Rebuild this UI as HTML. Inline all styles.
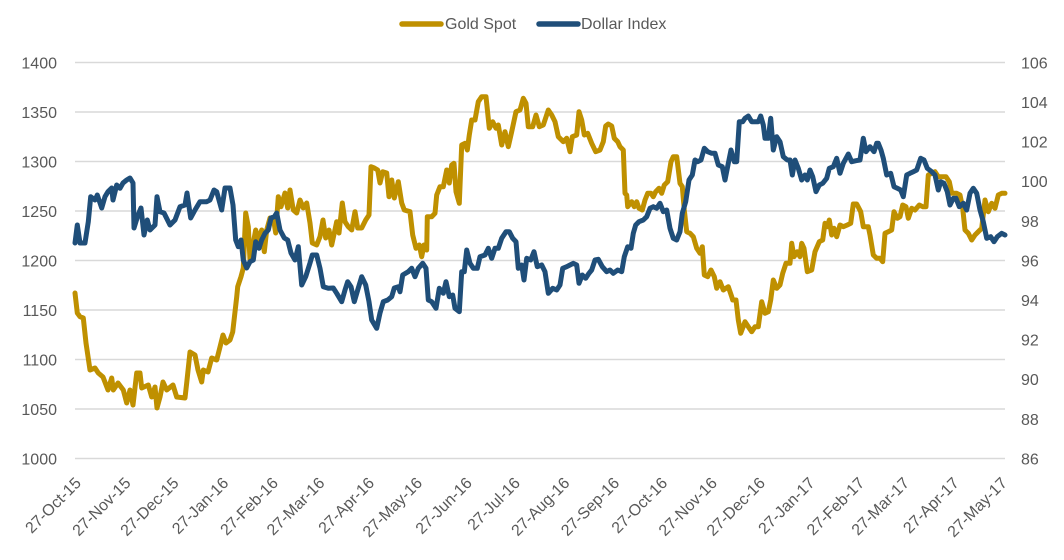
<!DOCTYPE html>
<html>
<head>
<meta charset="utf-8">
<style>
html,body{margin:0;padding:0;background:#fff;}
svg{display:block;}
text{font-family:"Liberation Sans",sans-serif;fill:#595959;font-size:16px;}
</style>
</head>
<body>
<svg width="1064" height="560" viewBox="0 0 1064 560" xmlns="http://www.w3.org/2000/svg">
<rect width="1064" height="560" fill="#fff"/>
<!-- gridlines -->
<g stroke="#d9d9d9" stroke-width="1.6">
<line x1="75" y1="62.5" x2="1005" y2="62.5"/>
<line x1="75" y1="112" x2="1005" y2="112"/>
<line x1="75" y1="161.5" x2="1005" y2="161.5"/>
<line x1="75" y1="211" x2="1005" y2="211"/>
<line x1="75" y1="260.5" x2="1005" y2="260.5"/>
<line x1="75" y1="310" x2="1005" y2="310"/>
<line x1="75" y1="359.5" x2="1005" y2="359.5"/>
<line x1="75" y1="409" x2="1005" y2="409"/>
<line x1="75" y1="458.5" x2="1005" y2="458.5"/>
</g>
<!-- left axis -->
<g text-anchor="end">
<text x="57" y="68.5">1400</text>
<text x="57" y="118">1350</text>
<text x="57" y="167.5">1300</text>
<text x="57" y="217">1250</text>
<text x="57" y="266.5">1200</text>
<text x="57" y="316">1150</text>
<text x="57" y="365.5">1100</text>
<text x="57" y="415">1050</text>
<text x="57" y="464.5">1000</text>
</g>
<!-- right axis -->
<g text-anchor="start">
<text x="1021" y="68.5">106</text>
<text x="1021" y="108">104</text>
<text x="1021" y="147.6">102</text>
<text x="1021" y="187.2">100</text>
<text x="1021" y="226.8">98</text>
<text x="1021" y="266.4">96</text>
<text x="1021" y="306">94</text>
<text x="1021" y="345.6">92</text>
<text x="1021" y="385.2">90</text>
<text x="1021" y="424.8">88</text>
<text x="1021" y="464.4">86</text>
</g>
<!-- x axis labels -->
<g text-anchor="end">
<text transform="translate(82,484) rotate(-45)">27-Oct-15</text>
<text transform="translate(131.7,484) rotate(-45)">27-Nov-15</text>
<text transform="translate(179.7,484) rotate(-45)">27-Dec-15</text>
<text transform="translate(229.4,484) rotate(-45)">27-Jan-16</text>
<text transform="translate(279,484) rotate(-45)">27-Feb-16</text>
<text transform="translate(325.5,484) rotate(-45)">27-Mar-16</text>
<text transform="translate(375.2,484) rotate(-45)">27-Apr-16</text>
<text transform="translate(423.2,484) rotate(-45)">27-May-16</text>
<text transform="translate(472.9,484) rotate(-45)">27-Jun-16</text>
<text transform="translate(521,484) rotate(-45)">27-Jul-16</text>
<text transform="translate(570.6,484) rotate(-45)">27-Aug-16</text>
<text transform="translate(620.3,484) rotate(-45)">27-Sep-16</text>
<text transform="translate(668.3,484) rotate(-45)">27-Oct-16</text>
<text transform="translate(718,484) rotate(-45)">27-Nov-16</text>
<text transform="translate(766,484) rotate(-45)">27-Dec-16</text>
<text transform="translate(815.7,484) rotate(-45)">27-Jan-17</text>
<text transform="translate(865.4,484) rotate(-45)">27-Feb-17</text>
<text transform="translate(910.2,484) rotate(-45)">27-Mar-17</text>
<text transform="translate(959.9,484) rotate(-45)">27-Apr-17</text>
<text transform="translate(1008,484) rotate(-45)">27-May-17</text>
</g>
<!-- legend -->
<line x1="402" y1="24" x2="441" y2="24" stroke="#bf9000" stroke-width="5.5" stroke-linecap="round"/>
<text x="445" y="29">Gold Spot</text>
<line x1="539" y1="24" x2="578" y2="24" stroke="#1f4e79" stroke-width="5.5" stroke-linecap="round"/>
<text x="581" y="29">Dollar Index</text>
<!-- Gold series -->
<polyline fill="none" stroke="#bf9000" stroke-width="5" stroke-linejoin="round" stroke-linecap="round" points="75,293 77.3,313 80,316.7 83.3,318 86,343 90,370 95,368 98.3,373 103,377 108,390 111.7,378 113.3,390 118,383 123.3,390 126.7,403 130,390 133,405 136.7,373 140,373 141.7,388 148.3,385 151.7,397 155,387 157,408 160,397 163,382 166.7,390 173,385 176.7,397 185,398 186.7,383 190,352 195,355 198,370 201.7,382 203.3,370 208,372 211.7,358 216.7,360 220,347 223,335 226,343 230,340 232.7,332 236.7,297 237.7,286.7 241,276.7 243.3,268 245.7,213 248.3,226.7 250,260 253.3,243 255.7,230 258.3,240 261.7,230 264.3,251.7 266.7,230 270,218 273.3,218 275.7,233 278.3,196.7 281,206.7 285,193 287.7,208 290,190 293.3,210 296.7,213 300,200 303.3,208 306.7,203 310,223 312.3,243 316.7,245 320,236.7 323,220 325.7,238 329,230 331.7,245 334.3,233 336.7,221.7 339,233 342.3,203 345,221.7 348.3,226.7 351.7,230 355,211.7 357.7,228 361.7,228 365.7,220 369,215 371,166.7 374.3,168 377.7,170 380,183 382.7,171.7 386.7,173 389,196.7 391.7,180 394.3,198 398.3,181.7 401.7,203 404.3,210 410,211.7 412.7,235 416,248.3 419.3,245 421.7,256.7 424,245 426.7,250 427.3,216.7 431.7,216.7 435,213.3 436.7,195 440,186.7 443.3,186.7 446.7,170 449.3,183 451.7,165 454,163.3 456,191.7 459.3,203.3 461.7,145 465,143.3 467.3,150 469.3,135 471.7,120 475,120 478.3,101.7 481.7,96.7 486,96.7 489.3,128.3 492.7,121.7 496,128.3 498.3,125 501.7,145 505,131.7 508.3,146.7 511.7,131.7 516,111.7 520,110 523.3,98.3 526,103.3 528.3,126.7 532.7,126.7 536,115 539.3,126.7 543.3,125 548.3,110 551.7,115 555,121.7 558.3,136.7 563.3,141.7 566.7,138.3 570,151.7 572.3,136.7 576.7,135 579,111.7 581.7,120 584.3,135 587.7,133.3 591.7,143.3 595.7,151.7 600,150 603.3,141.7 605.7,126 608.3,124 611.7,126 614.3,138.3 617.7,141.7 620,146.7 623.3,150 625,193.3 626.7,195 627.7,206.7 631.7,201.7 634.3,206.7 636.7,201.7 639,208.3 642.3,210 645,200 647.7,193.3 651,193.3 653.3,196.7 655.7,191.7 659,188.3 661.7,193.3 664.3,185 667.7,181.7 671,161.7 673.3,156.7 676.7,156.7 680,183.3 682.3,186.7 684.3,210 686.7,231.7 690,233.3 693.3,236.7 696.7,248.3 700,253.3 702.3,246.7 704.3,275 707.7,276.7 711,270 714.3,276.7 716.7,288.3 720,281.7 723.3,290 728.3,286.7 731.7,296.7 732.7,300 736,300 738.3,320 740.7,333.3 745,321.7 748.3,326.7 751.7,331.7 755,326.7 758.3,326.7 761.7,301.7 765,313.3 768.3,311.7 770.7,300 773.3,280 776.7,288.3 780,285 782.7,273.3 786,263.3 790,263.3 791.7,243.3 794,256.7 797.3,251.7 800,256.7 801.7,243.3 804,248.3 807.3,271.7 811.7,270 815,251.7 819.3,241.7 822.7,240 825,223.3 827.3,226.7 829.3,220 831.7,235 834,228.3 836.7,236.7 840,225 843.3,226.7 847.3,225 850.7,223.3 853.3,204 856.7,204 860.7,211.7 863.3,226.7 868.3,226.7 870,235 873.3,255 876.7,258.3 880,258.3 882.7,261.7 885,233.3 888.3,231.7 891.7,230 894,211.7 897.3,218.3 900,216.7 902.7,205 906,206.7 908.3,218.3 911.7,208.3 915,210 919.3,205 922.7,206.7 926,206.7 928.3,175 931.7,173.3 935,171.7 938.3,176.7 941.7,176.7 946,176.7 949.3,181.7 951.7,193.3 956.7,193.3 960,195 962.7,208.3 965,230 968.3,233.3 971.7,240 975,235 978.3,231.7 981.7,228.3 985,200 988.3,211.7 991.7,203.3 995,208.3 998.3,195 1001.7,193.3 1005,193.3"/>
<!-- Dollar series -->
<polyline fill="none" stroke="#1f4e79" stroke-width="5" stroke-linejoin="round" stroke-linecap="round" points="75,243 77.3,225 80,243 85,243 88.3,221.7 90.7,196.7 95,200 97.3,195 101.7,208 105,196.7 108,191.7 111.7,188 113,200 116.7,185 120,188.3 123,183 126.7,180 130,178 133,183 134,228 138,215 141,208 144,235 147.3,220 150,230 155,225 157,196.7 160,211.7 164,213 170,225 175,220 180,206.7 185,205 187,193 190.7,218 195,210 200,201.7 206.7,201.7 210,200 214,190 216.7,191.7 221.7,210 225,188 230,188 233,205 235.7,240 238.3,246.7 241,240 243.3,260 246.7,268 250,261.7 253.3,260 255.7,241.7 259,248.3 261.7,240 265,233.3 268.3,230 271,218 274.3,216.7 276.7,213 280,230 284.3,238 287.7,240 291,253 295,260 298.3,246.7 301.7,285 305.7,276.7 310,263 312.3,255 316.7,255 320,268.3 323.3,286.7 328.3,288.3 333.3,288 336.7,293.3 341.7,301.7 345,290 347.7,281.7 351,286.7 354.3,301.7 357.7,290 361.7,276.7 365.7,285 369,301.7 371.7,320 376.7,328.3 380,313 383.3,301.7 387.7,300 391.7,296.7 394.3,288 398.3,286.7 400,291.7 402.7,275 408.3,271.7 411.7,268.3 415,276.7 418.3,268.3 422.7,263.3 426,268.3 428.3,300 431.7,301.7 436,308.3 439.3,288.3 443.3,293.3 446,281.7 449.3,296.7 452.7,295 455,308.3 459.3,311.7 461.7,271.7 464.3,271.7 466.7,250 470,263.3 473.3,268.3 477.3,268.3 480,256.7 485,255 488.3,248.3 491.7,258.3 495,248.3 498.3,248.3 501.7,238.3 506,231.7 509.3,231.7 512.7,238.3 516,241.7 518.3,268.3 521.7,265 524,280 526.7,258.3 530.7,260 534,251.7 537.3,266.7 541.7,265 545,271.7 548.3,293.3 552.7,288.3 556.7,290 560,285 562.7,268.3 566.7,266.7 570,265 573.3,263.3 576.7,265 579,283.3 582.3,275 585.7,278.3 589,273.3 591.7,270 595,260 598.3,259.3 602.3,266.7 606.7,271.7 610,270 613.3,273.3 617.7,270 621.7,271.7 624.3,256.7 627.7,246.7 631,248.3 633.3,233.3 635.7,225 639,221.7 643.3,220 646.7,216.7 650,208.3 653.3,206.7 656.7,208.3 660,203.3 663.3,211.7 666.7,210 670,228.3 673.3,238.3 676.7,240 680,231.7 682.3,213.3 685.7,201.7 689,180 692.3,175 695,160 697.7,161.7 701,160 704.3,148.3 707.7,151.7 711.7,153.3 715,153.3 718.3,165 722.3,166.7 725,180 728.3,163.3 731,150 734.3,161.7 736.7,161.7 739.3,121.7 742.7,121.7 745,118.3 748.3,116 751.7,121.7 755,121.7 758.3,121.7 760.7,116 763.3,125 765,138.3 768.3,138.3 770.7,118.3 773.3,150 776.7,136.7 780,141.7 783.3,156.7 787.3,160 790,160 792.3,175 795,160 798.3,168.3 801.7,180 805,175 807.3,180 810,170 812.7,176.7 816,191.7 819.3,185 822.7,183.3 826.7,178.3 829.3,168.3 833.3,166.7 836.7,158.3 840,173.3 843.3,163.3 848.3,154 851.7,161.7 856,160.7 860,160 863.3,138.3 866,151.7 870,146.7 874,151.7 876.7,143.3 878.3,143.3 881,150 883.3,158.3 886.7,175 890.7,173.3 894,186.7 897.3,188.3 900.7,190 903.3,196.7 906.7,175 910,173.3 913.3,171.7 916.7,170 920.7,158.3 924,160 927.3,168.3 931.7,171.7 935,175 938.3,190 940.7,181.7 944,183.3 947.3,191.7 950,205 953.3,198.3 956,198.3 959.3,206.7 963.3,203.3 966.7,210 970,193.3 973.3,188.3 976.7,193.3 980,210 983.3,221.7 986.7,238.3 990.7,236.7 994,241.7 997.3,236.7 1001.7,233.3 1005,235"/>
</svg>
</body>
</html>
